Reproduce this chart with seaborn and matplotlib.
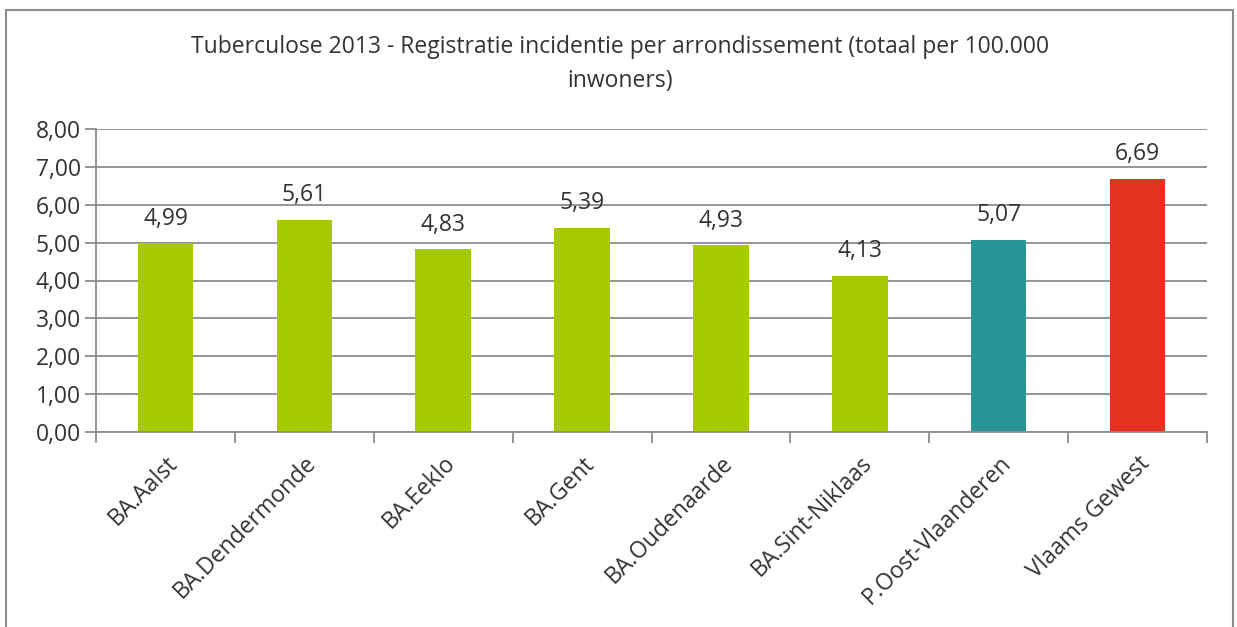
import matplotlib
matplotlib.use("Agg")
import matplotlib.pyplot as plt
from matplotlib.patches import Rectangle
from matplotlib.ticker import FixedLocator
import seaborn as sns
import pandas as pd

categories = ["BA.Aalst", "BA.Dendermonde", "BA.Eeklo", "BA.Gent", "BA.Oudenaarde",
              "BA.Sint-Niklaas", "P.Oost-Vlaanderen", "Vlaams Gewest"]
values = [4.99, 5.61, 4.83, 5.39, 4.93, 4.13, 5.07, 6.69]
bar_colors = ["#A5CA00", "#A5CA00", "#A5CA00", "#A5CA00", "#A5CA00", "#A5CA00",
              "#2A9599", "#E43120"]
title = "Tuberculose 2013 - Registratie incidentie per arrondissement (totaal per 100.000\ninwoners)"

sns.set_style("white")
plt.rcParams['font.family'] = ['Open Sans', 'DejaVu Sans']
txt = "#333333"
grid_c = "#8c8c8c"
fs = 16.5

df = pd.DataFrame({"cat": categories, "val": values})

fig = plt.figure(figsize=(12.37, 6.27), dpi=100)
ax = fig.add_axes([96/1237, 1-432/627, (1207-96)/1237, (432-129)/627])

sns.barplot(data=df, x="cat", y="val", hue="cat", palette=bar_colors,
            width=0.4, legend=False, ax=ax, saturation=1, linewidth=0)

ax.set_ylim(0, 8)
ax.set_xlim(-0.5, len(categories) - 0.5)
ax.set_yticks([i for i in range(9)])
ax.set_yticklabels([f"{i:.2f}".replace(".", ",") for i in range(9)], fontsize=fs, color=txt)
ax.yaxis.grid(True, color=grid_c, linewidth=1.3)
ax.set_axisbelow(True)
for s in ["top", "right"]:
    ax.spines[s].set_visible(False)
ax.spines["left"].set_color(grid_c)
ax.spines["bottom"].set_color(grid_c)
ax.spines["left"].set_linewidth(1.3)
ax.spines["bottom"].set_linewidth(1.3)
ax.tick_params(axis="y", length=8, color=grid_c, width=1.3, pad=3, direction="out", left=True)

ax.set_xticks(range(len(categories)))
ax.set_xticklabels(categories, rotation=45, ha="right", rotation_mode="anchor",
                   fontsize=fs, color=txt)
ax.tick_params(axis="x", length=0, pad=14)
ax.xaxis.set_minor_locator(FixedLocator([i - 0.5 for i in range(len(categories) + 1)]))
ax.tick_params(axis="x", which="minor", length=8, color=grid_c, width=1.3, bottom=True)
ax.set_xlabel("")
ax.set_ylabel("")

for i, v in enumerate(values):
    ax.annotate(f"{v:.2f}".replace(".", ","), (i, v), xytext=(0, 9),
                textcoords="offset points", ha="center", va="bottom",
                fontsize=fs, color=txt)

fig.text(620/1237, 1-64/627, title, ha="center", va="center", fontsize=fs,
         color=txt, linespacing=1.55)

fig.patches.append(Rectangle((6/1237, -0.05), (1233-6)/1237, 1.05-10/627,
                             transform=fig.transFigure, fill=False,
                             edgecolor="#8c8c8c", linewidth=1.5))

fig.savefig("out.png", dpi=100)
